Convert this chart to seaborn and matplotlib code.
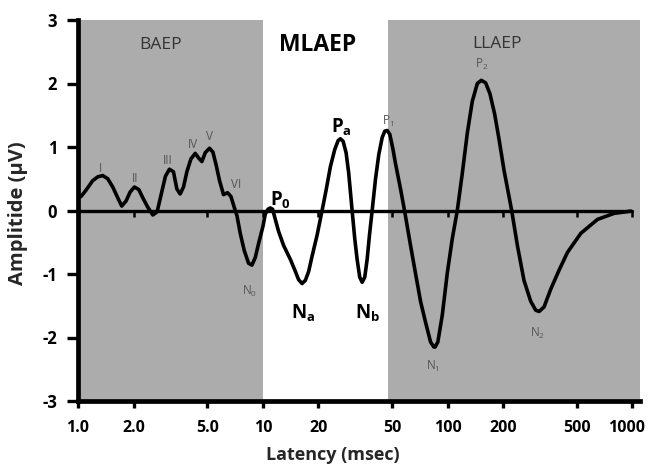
import numpy as np
import pandas as pd
import matplotlib
matplotlib.use("Agg")
import matplotlib.pyplot as plt
import matplotlib.transforms as mtransforms
import seaborn as sns

# ---- data ----
latency = [1.00, 1.038, 1.105, 1.201, 1.279, 1.361, 1.449, 1.542, 1.641, 1.725,
           1.820, 1.914, 2.019, 2.133, 2.242, 2.387, 2.541, 2.681, 2.818, 2.973,
           3.125, 3.285, 3.427, 3.571, 3.722, 3.884, 4.081, 4.307, 4.487, 4.682,
           4.880, 5.147, 5.372, 5.598, 5.834, 6.131, 6.446, 6.725, 7.008, 7.248,
           7.551, 7.937, 8.375, 8.738, 9.107, 9.489, 10.02, 10.32, 10.67, 10.98,
           11.30, 11.69, 12.18, 12.96, 14.10, 15.01, 15.63, 16.31, 17.00, 17.71,
           18.48, 19.67, 20.94, 22.01, 23.22, 24.51, 25.56, 26.31, 27.21, 28.24,
           29.17, 30.44, 31.45, 32.40, 33.47, 34.49, 35.63, 36.71, 37.78, 39.08,
           40.72, 42.43, 44.28, 45.74, 47.13, 48.68, 50.53, 52.27, 55.64, 58.48,
           63.03, 67.07, 71.40, 76.0, 80.9, 84.3, 85.6, 88.6, 93.6, 99.6,
           106.1, 112.9, 120.2, 127.9, 136.1, 144.9, 152.3, 160.7, 169.5, 179.8,
           189.7, 201.9, 222.3, 238.7, 259.1, 281.8, 299.9, 312.6, 332.7, 361.6,
           401.2, 445.5, 525.9, 647.9, 796.8, 981.6]
amplitude = [0.22, 0.22, 0.32, 0.47, 0.53, 0.55, 0.50, 0.37, 0.20, 0.07,
             0.15, 0.29, 0.37, 0.33, 0.20, 0.05, -0.07, -0.02, 0.25, 0.54,
             0.65, 0.61, 0.34, 0.26, 0.37, 0.61, 0.81, 0.90, 0.83, 0.77,
             0.91, 0.98, 0.92, 0.71, 0.47, 0.25, 0.28, 0.22, 0.05, -0.08,
             -0.36, -0.63, -0.83, -0.86, -0.74, -0.52, -0.25, -0.055, 0.02, 0.04,
             0.02, -0.14, -0.33, -0.55, -0.77, -0.96, -1.09, -1.15, -1.10, -0.96,
             -0.72, -0.39, 0.0, 0.32, 0.69, 0.96, 1.10, 1.13, 1.09, 0.91,
             0.59, 0.0, -0.44, -0.77, -1.05, -1.13, -1.05, -0.77, -0.39, 0.0,
             0.49, 0.88, 1.15, 1.25, 1.26, 1.20, 0.98, 0.74, 0.34, 0.0,
             -0.55, -0.99, -1.43, -1.76, -2.07, -2.15, -2.15, -2.07, -1.65, -0.99,
             -0.44, 0.0, 0.59, 1.22, 1.72, 2.00, 2.05, 2.01, 1.84, 1.52,
             1.13, 0.64, 0.0, -0.55, -1.10, -1.43, -1.57, -1.59, -1.52, -1.24,
             -0.94, -0.66, -0.36, -0.14, -0.045, -0.01]

regions = ["BAEP", "MLAEP", "LLAEP"]
region_x = [2.8, 19.9, 185]
shaded_spans = [(1.0, 10.0), (47.5, 1100.0)]

x_ticks = [1, 2, 5, 10, 20, 50, 100, 200, 500, 1000]
x_ticklabels = ["1.0", "2.0", "5.0", "10", "20", "50", "100", "200", "500", "1000"]
y_ticks = [-3, -2, -1, 0, 1, 2, 3]

# peak labels
peak_text = ["I", "II", "III", "IV", "V", "VI", "N$_0$", "P$_\\mathbf{0}$",
             "N$_\\mathbf{a}$", "P$_\\mathbf{a}$", "N$_\\mathbf{b}$", "P$_1$",
             "N$_1$", "P$_2$", "N$_2$"]
peak_x = [1.33, 2.03, 3.07, 4.19, 5.18, 7.16, 8.5, 12.4, 16.5, 26.5, 36.7,
          47.6, 83.6, 153.6, 309]
peak_y = [0.66, 0.50, 0.78, 1.04, 1.16, 0.41, -1.28, 0.17, -1.61, 1.33, -1.61,
          1.41, -2.46, 2.30, -1.93]
peak_big = [False, False, False, False, False, False, False, True, True, True,
            True, False, False, False, False]

# ---- style ----
sns.set_style("ticks")
plt.rcParams["font.family"] = ["Open Sans", "DejaVu Sans"]
plt.rcParams["mathtext.fontset"] = "custom"
plt.rcParams["mathtext.rm"] = "Open Sans"
plt.rcParams["mathtext.it"] = "Open Sans:italic"
plt.rcParams["mathtext.bf"] = "Open Sans:bold"

fig = plt.figure(figsize=(6.49, 4.72), dpi=100)
ax = fig.add_axes([78 / 649, 1 - 401 / 472, (640 - 78) / 649, (401 - 20) / 472])

gray = "#acacac"
for a, b in shaded_spans:
    ax.axvspan(a, b, color=gray, lw=0, zorder=0)

df = pd.DataFrame({"latency": latency, "amplitude": amplitude})
sns.lineplot(data=df, x="latency", y="amplitude", ax=ax, color="black",
             lw=2.6, zorder=3, sort=False)
ax.lines[-1].set_solid_joinstyle("round")
ax.lines[-1].set_solid_capstyle("round")

ax.set_xscale("log")
ax.set_xlim(1.0, 1100)
ax.set_ylim(-3, 3)

# zero line with its own small ticks
ax.plot([x_ticks[0], x_ticks[-1]], [0, 0], color="black", lw=2.4, zorder=2)
ax.vlines(x_ticks[1:], -0.1, 0, color="black", lw=1.8, zorder=2)

ax.set_xticks(x_ticks)
ax.set_xticklabels(x_ticklabels)
ax.xaxis.set_minor_locator(matplotlib.ticker.NullLocator())
ax.set_yticks(y_ticks)
ax.set_yticklabels([str(v) for v in y_ticks])

for s in ["top", "right"]:
    ax.spines[s].set_visible(False)
for s in ["left", "bottom"]:
    ax.spines[s].set_linewidth(3.4)
    ax.spines[s].set_color("black")
ax.tick_params(axis="x", which="major", length=5, width=2.4, color="black",
               labelsize=11.5, pad=9)
ax.tick_params(axis="y", which="major", length=8, width=2.4, color="black",
               labelsize=12, pad=7)
for lab in ax.get_xticklabels() + ax.get_yticklabels():
    lab.set_fontweight("bold")
    lab.set_color("black")
# keep the last label inside the canvas
last = ax.get_xticklabels()[-1]
last.set_transform(last.get_transform() +
                   mtransforms.ScaledTranslation(-4 / 72, 0, fig.dpi_scale_trans))

ax.set_xlabel("Latency (msec)", fontsize=13, fontweight="bold")
ax.xaxis.set_label_coords((333 - 78) / 562, -54 / 381)
ax.xaxis.label.set_va("center")
ax.set_ylabel("Amplitide (µV)", fontsize=14.5, fontweight="bold")
ax.yaxis.set_label_coords((18 - 78) / 562, (401 - 213) / 381)
ax.yaxis.label.set_va("center")

# region titles
ax.text(region_x[0], 2.61, regions[0], ha="center", va="center", fontsize=12.5,
        color="#333333")
ax.text(region_x[1], 2.61, regions[1], ha="center", va="center", fontsize=16.5,
        fontweight="bold", color="black")
ax.text(region_x[2], 2.62, regions[2], ha="center", va="center", fontsize=12.5,
        color="#333333")

for t, px, py, big in zip(peak_text, peak_x, peak_y, peak_big):
    if big:
        ax.text(px, py, t, ha="center", va="center", fontsize=13.5,
                fontweight="bold", color="black")
    else:
        ax.text(px, py, t, ha="center", va="center", fontsize=8.5,
                color="#555555")

fig.savefig("out.png", dpi=100)
